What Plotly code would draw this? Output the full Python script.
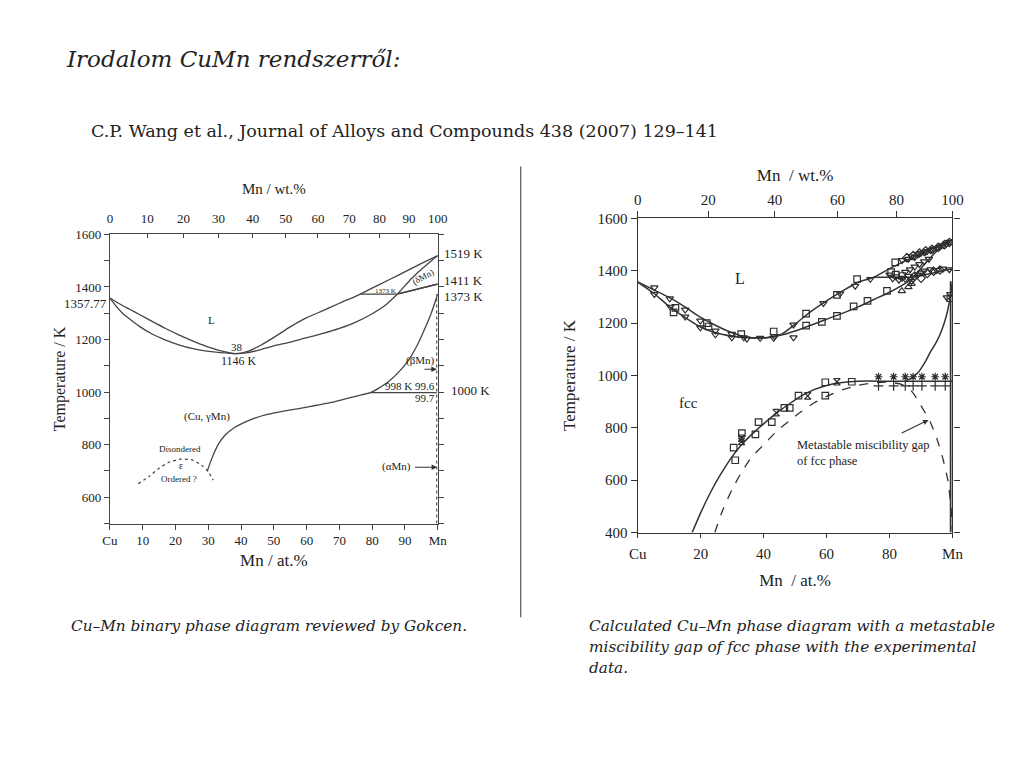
import plotly.graph_objects as go

W, H = 1024, 768

# ---------------- Left chart (Gokcen review) data ----------------
L_liq_x = [0, 3, 6, 9, 13, 17, 21, 25, 29, 33, 36, 38.5, 42, 46, 50, 55, 60, 65, 70, 76.4, 82, 88, 94, 100]
L_liq_T = [1357.77, 1335, 1315, 1295, 1268, 1242, 1218, 1196, 1176, 1160, 1151, 1146, 1155, 1178, 1208, 1248, 1283, 1310, 1338, 1373, 1408, 1445, 1483, 1519]
L_sol_x = [0, 2, 4, 6, 9, 13, 17, 21, 25, 29, 33, 36, 38.5, 42, 46, 50, 55, 60, 65, 70, 75, 80, 84, 87.7]
L_sol_T = [1357.77, 1325, 1298, 1278, 1250, 1220, 1198, 1180, 1166, 1157, 1151, 1148, 1146, 1150, 1162, 1176, 1190, 1207, 1223, 1242, 1266, 1298, 1330, 1373]
L_delta_x = [87.7, 90, 92, 94, 96, 98, 100]
L_delta_T = [1373, 1405, 1432, 1456, 1478, 1499, 1519]
L_gd1_x = [87.7, 100]
L_gd1_T = [1373, 1411]
L_gd2_x = [88.5, 100]
L_gd2_T = [1375, 1411]
L_peri_x = [76.4, 87.7]
L_peri_T = [1373, 1373]
L_fcc_x = [29.7, 31, 33, 35, 38, 41, 44, 48, 53, 58, 63, 68, 73, 77, 79.5, 82, 85, 88, 91, 94, 96, 98, 100]
L_fcc_T = [700, 745, 800, 835, 865, 885, 900, 915, 928, 938, 950, 962, 978, 990, 998, 1015, 1040, 1075, 1120, 1185, 1240, 1300, 1373]
L_eut_x = [79.5, 99.7]
L_eut_T = [998, 998]
L_eps_x = [8.6, 12, 15, 18, 21.6, 25, 28, 30, 31.5]
L_eps_T = [651, 680, 710, 733, 745, 742, 722, 697, 665]
L_dot_x = [99.7, 99.7]
L_dot_T = [500, 1373]

L_yticks = [600, 800, 1000, 1200, 1400, 1600]
L_xticks = [0, 10, 20, 30, 40, 50, 60, 70, 80, 90, 100]
L_xtext = ["Cu", "10", "20", "30", "40", "50", "60", "70", "80", "90", "Mn"]
L_wt = [0, 10, 20, 30, 40, 50, 60, 70, 80, 90, 100]

# ---------------- Right chart (Wang et al. calculation) data ----------------
R_liq_x = [0, 5, 10, 15, 20, 25, 30, 34, 38, 42, 46, 50, 55, 60, 65, 70, 75, 80, 85, 90, 95, 100]
R_liq_T = [1357, 1328, 1298, 1262, 1222, 1190, 1163, 1148, 1143, 1146, 1160, 1196, 1244, 1285, 1322, 1356, 1375, 1408, 1438, 1466, 1493, 1519]
R_sol_x = [0, 5, 10, 15, 20, 25, 30, 34, 38, 42, 46, 50, 55, 60, 65, 70, 75, 80, 85, 87.6]
R_sol_T = [1357, 1315, 1264, 1222, 1185, 1162, 1150, 1145, 1143, 1146, 1155, 1170, 1192, 1215, 1237, 1262, 1290, 1318, 1352, 1375]
R_delta_x = [87.6, 90, 93, 96, 100]
R_delta_T = [1375, 1410, 1450, 1487, 1519]
R_gd_x = [87.6, 100]
R_gd_T = [1375, 1408]
R_peri_x = [74.9, 87.6]
R_peri_T = [1375, 1375]
R_fcc_x = [17.3, 20, 23, 26, 30, 33, 36, 40, 44, 48, 52, 56, 60, 65, 70, 80, 90, 100]
R_fcc_T = [400, 475, 550, 615, 690, 735, 772, 815, 855, 890, 922, 946, 962, 973, 978, 978, 978, 978]
R_beta_x = [85, 87, 89, 91, 93, 95, 96.5, 98, 99, 100]
R_beta_T = [980, 990, 1010, 1045, 1090, 1130, 1170, 1225, 1280, 1360]
R_gap_x = [24.5, 27, 30, 33, 36, 40, 44, 48, 52, 56, 60, 65, 70, 75, 80, 84, 87, 90, 93, 95, 97, 98.5, 99.5, 100]
R_gap_T = [400, 485, 565, 630, 685, 735, 785, 825, 862, 895, 920, 945, 962, 972, 974, 965, 940, 885, 820, 760, 680, 600, 500, 400]
R_mnline_x = [99.4, 99.4]
R_mnline_T = [400, 1360]

# experimental points
R_sq_x = [11.4, 12, 22, 22.5, 32.9, 43.2, 53.5, 53.5, 58.5, 63.3, 63.3, 68.6, 73, 79.2, 81.8, 80.5, 82, 84, 69.7,
          30.5, 31, 37.4, 38.4, 42.6, 46.6, 48.3, 51.1, 59.6, 59.6, 68, 33.1, 99.3]
R_sq_T = [1241, 1258, 1200, 1187, 1158, 1168, 1236, 1190, 1205, 1308, 1228, 1264, 1285, 1323, 1432, 1395, 1385, 1380, 1368,
          724, 676, 775, 822, 822, 876, 876, 923, 974, 923, 976, 780, 1295]
R_dt_x = [5.3, 5.3, 10.2, 10.4, 15.1, 15.1, 19.9, 19.9, 24.7, 24.7, 29.9, 29.9, 33.7, 34.7, 38.9, 43.2, 43.5, 49.5, 49.5,
          59, 64.3, 69.1, 73.9, 98.2, 99.3,
          84, 86, 87, 88, 89, 90, 91, 92, 93, 94, 95, 96, 97, 98, 99,
          80, 81, 82, 83, 84, 85, 86, 87, 88, 89, 90, 91, 93, 95, 97, 99,
          85, 86.5, 88, 89.5, 91, 92.5]
R_dt_T = [1336, 1310, 1294, 1262, 1251, 1224, 1209, 1183, 1171, 1156, 1158, 1145, 1145, 1140, 1143, 1143, 1150, 1145, 1194,
          1276, 1313, 1342, 1368, 1298, 1310,
          1440, 1445, 1455, 1452, 1462, 1468, 1470, 1475, 1478, 1483, 1486, 1492, 1497, 1503, 1510,
          1385, 1370, 1378, 1365, 1372, 1368, 1380, 1360, 1375, 1385, 1392, 1400, 1405, 1402, 1408, 1405,
          1395, 1405, 1415, 1425, 1435, 1445]
R_dia_x = [85.5, 87.5, 89.5, 91.5, 93.5, 95.5, 97.5, 99, 88, 90, 92, 94, 96]
R_dia_T = [1450, 1458, 1468, 1476, 1482, 1490, 1500, 1508, 1380, 1372, 1390, 1398, 1403]
R_ut_x = [83.9, 86, 87]
R_ut_T = [1323, 1338, 1350]
R_hg_x = [33, 33, 44, 54, 63.3]
R_hg_T = [760, 748, 858, 922, 976]
R_star_x = [76.5, 81.3, 85, 87.5, 90.3, 94.5, 97.7]
R_star_T = [995, 995, 995, 995, 995, 995, 995]
R_plus_x = [76.5, 81.3, 85, 87.5, 90.3, 94.5, 97.7]
R_plus_T = [960, 960, 960, 960, 960, 960, 960]

R_yticks = [400, 600, 800, 1000, 1200, 1400, 1600]
R_xticks = [0, 20, 40, 60, 80, 100]
R_xtext = ["Cu", "20", "40", "60", "80", "Mn"]
R_wt = [0, 20, 40, 60, 80, 100]

M_MN, M_CU = 54.938, 63.546


def wt_to_at(w):
    a = w / M_MN
    b = (100 - w) / M_CU
    return 100 * a / (a + b)


# page placement helpers (compensate the page's display offset/scale)
SX, BX = 0.981, 16.0
SY, BY = 0.982, 14.0


def PX(X):
    return (X - BX) / SX / W


def PY(Y):
    return 1 - (Y - BY) / SY / H


LINE_L = "#454545"
LINE_R = "#333333"
TXT = "#222222"
SERIF = "Liberation Serif"

fig = go.Figure()


def line(x, y, xa, ya, dash="solid", w=None, spline=True):
    right = xa == "x2"
    if w is None:
        w = 1.5 if right else 1.3
    fig.add_trace(go.Scatter(
        x=x, y=y, mode="lines", xaxis=xa, yaxis=ya,
        line=dict(color=LINE_R if right else LINE_L, width=w, dash=dash,
                  shape="spline" if spline else "linear", smoothing=0.6),
        hoverinfo="skip", showlegend=False))


def marks(x, y, sym, size=6.5):
    fig.add_trace(go.Scatter(
        x=x, y=y, mode="markers", xaxis="x2", yaxis="y2",
        marker=dict(symbol=sym, size=size, color="#2e2e2e",
                    line=dict(width=1.2, color="#2e2e2e")),
        hoverinfo="skip", showlegend=False))


# left chart lines
line(L_liq_x, L_liq_T, "x", "y")
line(L_sol_x, L_sol_T, "x", "y")
line(L_delta_x, L_delta_T, "x", "y")
line(L_gd1_x, L_gd1_T, "x", "y", w=1.7, spline=False)
line(L_gd2_x, L_gd2_T, "x", "y", w=1.2, spline=False)
line(L_peri_x, L_peri_T, "x", "y", spline=False)
line(L_fcc_x, L_fcc_T, "x", "y")
line(L_eut_x, L_eut_T, "x", "y", spline=False)
line(L_eps_x, L_eps_T, "x", "y", dash="dot", w=1.2)
line(L_dot_x, L_dot_T, "x", "y", dash="dot", w=1.2, spline=False)
fig.add_trace(go.Scatter(x=[0, 100], y=[500, 500], xaxis="x3", yaxis="y", mode="lines",
                         line=dict(width=0), hoverinfo="skip", showlegend=False))

# right chart lines
line(R_liq_x, R_liq_T, "x2", "y2")
line(R_sol_x, R_sol_T, "x2", "y2")
line(R_delta_x, R_delta_T, "x2", "y2")
line(R_gd_x, R_gd_T, "x2", "y2", spline=False)
line(R_peri_x, R_peri_T, "x2", "y2", spline=False)
line(R_fcc_x, R_fcc_T, "x2", "y2")
line(R_beta_x, R_beta_T, "x2", "y2")
line(R_gap_x, R_gap_T, "x2", "y2", dash="dash", w=1.3)
line(R_mnline_x, R_mnline_T, "x2", "y2", w=1.7, spline=False)
fig.add_trace(go.Scatter(x=[0, 100], y=[400, 400], xaxis="x4", yaxis="y2", mode="lines",
                         line=dict(width=0), hoverinfo="skip", showlegend=False))

marks(R_sq_x, R_sq_T, "square-open")
marks(R_dt_x, R_dt_T, "triangle-down-open")
marks(R_dia_x, R_dia_T, "diamond-open")
marks(R_ut_x, R_ut_T, "triangle-up-open")
marks(R_hg_x, R_hg_T, "hourglass-open")
marks(R_star_x, R_star_T, "asterisk-open")
marks(R_plus_x, R_plus_T, "cross-thin-open", 7)

# domains (from pixel positions of the reference)
Lx = [PX(109), PX(437)]
Ly = [PY(523), PY(233)]
Rx = [PX(637), PX(952)]
Ry = [PY(532), PY(217)]

axis_common = dict(showgrid=False, zeroline=False, showline=True, linewidth=1.2,
                   ticks="outside", color=TXT)

fig.update_layout(
    width=W, height=H, margin=dict(l=0, r=0, t=0, b=0),
    paper_bgcolor="white", plot_bgcolor="white", showlegend=False,
    font=dict(family=SERIF, color=TXT),
    xaxis=dict(domain=Lx, range=[0, 100], anchor="y", tickvals=L_xticks, ticktext=L_xtext,
               ticklen=5, mirror=True, tickfont=dict(size=13), linecolor=LINE_L, tickcolor=LINE_L,
               title=dict(text="Mn / at.%", font=dict(size=17), standoff=6), **axis_common),
    yaxis=dict(domain=Ly, range=[500, 1600], anchor="x", tickvals=L_yticks, ticklen=5,
               mirror="ticks", tickfont=dict(size=13), linecolor=LINE_L, tickcolor=LINE_L,
               minor=dict(dtick=100, ticks="outside", ticklen=5, tickcolor=LINE_L),
               title=dict(text="Temperature / K", font=dict(size=16), standoff=5), **axis_common),
    xaxis3=dict(overlaying="x", side="top", anchor="y", range=[0, 100],
                tickvals=[wt_to_at(w) for w in L_wt], ticktext=[str(w) for w in L_wt],
                ticklen=4, tickfont=dict(size=13), ticklabelstandoff=8,
                title=dict(text="Mn / wt.%", font=dict(size=15), standoff=12),
                showgrid=False, zeroline=False, showline=False, ticks="inside", tickcolor=LINE_L, color=TXT),
    xaxis2=dict(domain=Rx, range=[0, 100], anchor="y2", tickvals=R_xticks, ticktext=R_xtext,
                ticklen=4, mirror=True, tickfont=dict(size=15), ticklabelstandoff=3,
                linecolor=LINE_R, tickcolor=LINE_R,
                title=dict(text="Mn  / at.%", font=dict(size=17), standoff=13), **axis_common),
    yaxis2=dict(domain=Ry, range=[400, 1600], anchor="x2", tickvals=R_yticks, ticklen=6,
                mirror="ticks", tickfont=dict(size=15), linecolor=LINE_R, tickcolor=LINE_R,
                title=dict(text="Temperature / K", font=dict(size=17), standoff=17), **axis_common),
    xaxis4=dict(overlaying="x2", side="top", anchor="y2", range=[0, 100],
                tickvals=[wt_to_at(w) for w in R_wt], ticktext=[str(w) for w in R_wt],
                ticklen=6, tickfont=dict(size=15),
                title=dict(text="Mn  / wt.%", font=dict(size=17), standoff=6),
                showgrid=False, zeroline=False, showline=False, ticks="outside", tickcolor=LINE_R, color=TXT),
)


def ann(text, x, y, xref="x", yref="y", size=12, xanchor="center", yanchor="middle", family=SERIF,
        italic=False, xshift=0, yshift=0, textangle=0, **kw):
    fig.add_annotation(text=f"<i>{text}</i>" if italic else text, x=x, y=y, xref=xref, yref=yref,
                       showarrow=False, xanchor=xanchor, yanchor=yanchor, xshift=xshift, yshift=yshift,
                       textangle=textangle, font=dict(size=size, family=family, color=TXT), **kw)


def arrow(x0, y0, x1, y1, xr, yr):
    fig.add_annotation(x=x1, y=y1, ax=x0, ay=y0, xref=xr, yref=yr, axref=xr, ayref=yr, text="",
                       showarrow=True, arrowhead=2, arrowsize=1, arrowwidth=1.1, arrowcolor="#333")


# Left chart labels
ann("1357.77", Lx[0], 1357.77, xref="paper", size=13, xanchor="right", xshift=-1, yshift=-5)
ann("1519 K", 100, 1519, size=13, xanchor="left", xshift=4, yshift=2)
ann("1411 K", 100, 1411, size=13, xanchor="left", xshift=4, yshift=4)
ann("1373 K", 100, 1373, size=13, xanchor="left", xshift=4, yshift=-2)
ann("1000 K", 100, 1000, size=13, xanchor="left", xshift=11, yshift=2)
ann("L", 31, 1276, size=11)
ann("38", 38.7, 1171, size=11)
ann("1146 K", 39.4, 1118, size=12)
ann("(Cu, γMn)", 29.7, 907, size=11)
ann("Disondered", 21.4, 785, size=9)
ann("ε", 21.6, 722, size=10)
ann("Ordered ?", 21, 668, size=9)
ann("998 K 99.6", 99.8, 1024, size=11, xanchor="right")
ann("99.7", 99.8, 978, size=11, xanchor="right")
ann("1373 K", 84, 1385, size=7)
ann("(δMn)", 95.5, 1436, size=9, textangle=-28)
ann("(βMn)", 99.8, 1122, size=11, xanchor="right")
ann("(αMn)", 92.3, 716, size=11, xanchor="right")
arrow(95.5, 1087, 99.7, 1087, "x", "y")
arrow(92.6, 714, 99.8, 714, "x", "y")

# Right chart labels
ann("L", 32.6, 1372, xref="x2", yref="y2", size=16)
ann("fcc", 16.2, 894, xref="x2", yref="y2", size=15)
ann("Metastable miscibility gap<br>of fcc phase", 50, 703, xref="x2", yref="y2", size=12.5,
    xanchor="left", align="left")
arrow(83.4, 777, 92.4, 830, "x2", "y2")

# Page texts
GEO = "DejaVu Serif"
ann("Irodalom CuMn rendszerről:", PX(63), PY(57), xref="paper", yref="paper", size=23,
    xanchor="left", family=GEO, italic=True)
ann("C.P. Wang et al., Journal of Alloys and Compounds 438 (2007) 129–141", PX(88), PY(129),
    xref="paper", yref="paper", size=17.5, xanchor="left", family=GEO)
ann("Cu–Mn binary phase diagram reviewed by Gokcen.", PX(68), PY(626), xref="paper", yref="paper",
    size=15.3, xanchor="left", family=GEO, italic=True)
ann("Calculated Cu–Mn phase diagram with a metastable", PX(586), PY(626), xref="paper", yref="paper",
    size=15.3, xanchor="left", family=GEO, italic=True)
ann("miscibility gap of fcc phase with the experimental", PX(586), PY(647), xref="paper", yref="paper",
    size=15.3, xanchor="left", family=GEO, italic=True)
ann("data.", PX(586), PY(668), xref="paper", yref="paper", size=15.3, xanchor="left", family=GEO, italic=True)

# separator line
fig.add_shape(type="line", xref="paper", yref="paper", x0=PX(520), x1=PX(520), y0=PY(165), y1=PY(617),
              line=dict(color="#555", width=1.2))

fig.write_html("out.html")
